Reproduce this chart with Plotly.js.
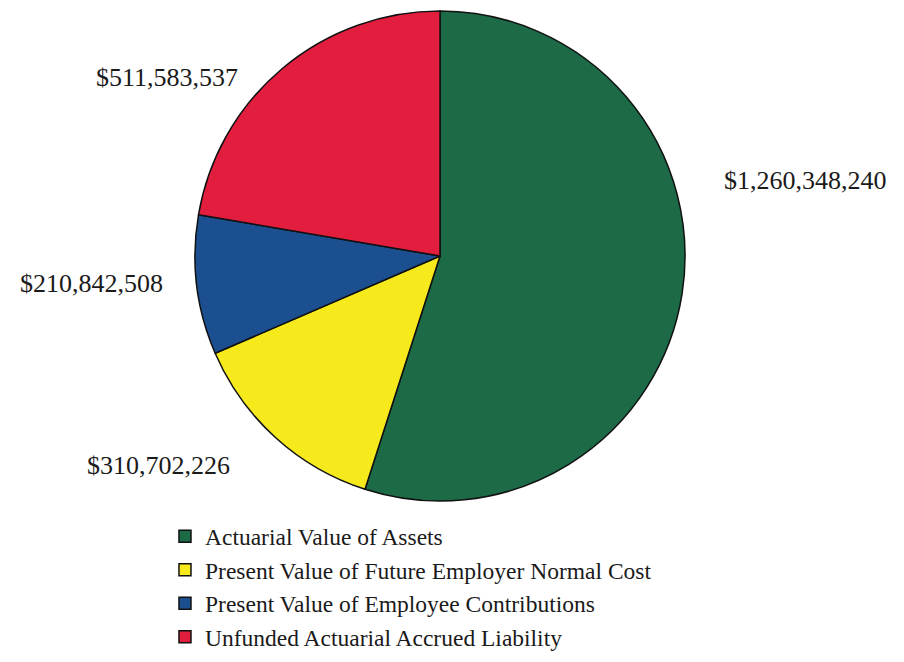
<!DOCTYPE html>
<html>
<head>
<meta charset="utf-8">
<script src="https://cdn.plot.ly/plotly-3.0.1.min.js"></script>
<style>html,body{margin:0;padding:0;background:#fff;}#chart{width:904px;height:662px;}</style>
</head>
<body>
<div id="chart"></div>
<script>
const categories = [
  "Actuarial Value of Assets",
  "Present Value of Future Employer Normal Cost",
  "Present Value of Employee Contributions",
  "Unfunded Actuarial Accrued Liability"
];
const values = [1260348240, 310702226, 210842508, 511583537];
const valueLabels = ["$1,260,348,240", "$310,702,226", "$210,842,508", "$511,583,537"];
const colors = ["#1d6a47", "#f6ea1c", "#1b4f90", "#e31d3d"];

// label anchor positions (paper fraction) for the data labels
const labelX = [0.8905, 0.1748, 0.1007, 0.1847];
const labelY = [0.7266, 0.2961, 0.5725, 0.8822];

const serif = "Liberation Serif, Times New Roman, serif";

const trace = {
  type: "pie",
  labels: categories,
  values: values,
  textinfo: "none",
  sort: false,
  direction: "clockwise",
  rotation: 0,
  domain: { x: [0.1549, 0.8186], y: [0.2432, 0.9834] },
  marker: { colors: colors, line: { color: "#111", width: 1.5 } },
  hoverinfo: "none"
};

const annotations = valueLabels.map((t, i) => ({
  text: t, xref: "paper", yref: "paper",
  x: labelX[i], y: labelY[i], xanchor: "center", yanchor: "middle",
  showarrow: false,
  font: { family: serif, size: 26, color: "#1a1a1a" }
}));

const layout = {
  width: 904, height: 662,
  paper_bgcolor: "#fff",
  margin: { l: 0, r: 0, t: 0, b: 0 },
  showlegend: true,
  annotations: annotations,
  legend: {
    orientation: "v",
    x: 0.1825, xanchor: "left",
    y: 0.004, yanchor: "bottom",
    font: { family: serif, size: 23.5, color: "#1a1a1a" },
    itemwidth: 30,
    tracegroupgap: 0
  }
};

Plotly.newPlot("chart", [trace], layout, { displayModeBar: false, staticPlot: true });
</script>
</body>
</html>
